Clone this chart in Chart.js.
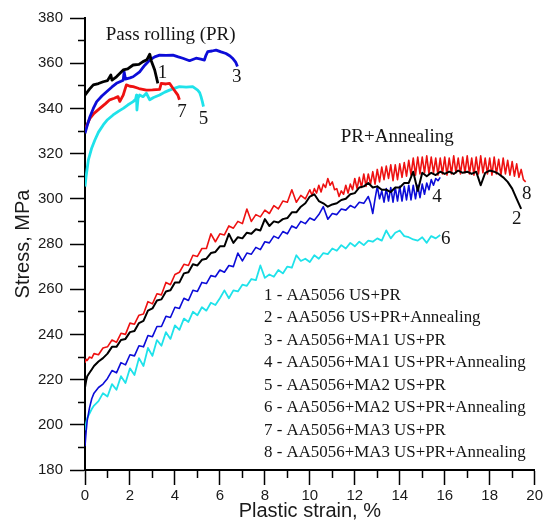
<!DOCTYPE html>
<html><head><meta charset="utf-8">
<script src="https://cdn.jsdelivr.net/npm/chart.js@4"></script>
<style>html,body{margin:0;padding:0;background:#fff;overflow:hidden}canvas{display:block}</style>
</head><body>
<canvas id="c" width="545" height="531"></canvas>
<script>
// ---- tick labels ----
const xTickLabels = [0, 2, 4, 6, 8, 10, 12, 14, 16, 18, 20];
const yTickLabels = [180, 200, 220, 240, 260, 280, 300, 320, 340, 360, 380];

// ---- series names ----
const legendLabels = [
  '1 - AA5056 US+PR',
  '2 - AA5056 US+PR+Annealing',
  '3 - AA5056+MA1 US+PR',
  '4 - AA5056+MA1 US+PR+Annealing',
  '5 - AA5056+MA2 US+PR',
  '6 - AA5056+MA2 US+PR+Annealing',
  '7 - AA5056+MA3 US+PR',
  '8 - AA5056+MA3 US+PR+Annealing'
];
const groupTitles = ['Pass rolling (PR)', 'PR+Annealing'];

// ---- Pass rolling curves (strain %, stress MPa) ----
const strain1 = [0, 0.2, 0.37, 0.6, 0.81, 1.0, 1.15, 1.2, 1.4, 1.7, 1.9, 2.14, 2.4, 2.58, 2.75, 2.88, 2.95, 3.1, 3.24];
const stress1 = [345.9, 348.5, 350.4, 351, 351.8, 352.3, 354.8, 352.5, 354, 357, 357.5, 359.2, 359.5, 360.7, 361.5, 364, 361, 357, 351.1];

const strain3 = [0, 0.1, 0.22, 0.37, 0.52, 0.75, 0.96, 1.2, 1.4, 1.6, 1.7, 1.74, 1.8, 2.0, 2.14, 2.43, 2.65, 2.88, 3.1, 3.32, 3.6, 3.91, 4.15, 4.35, 4.65, 4.94, 5.15, 5.31, 5.38, 5.46, 5.65, 5.83, 6.05, 6.27, 6.45, 6.56, 6.7, 6.78];
const stress3 = [329, 332.5, 336.3, 340, 343, 345.5, 347.4, 349.5, 351.1, 352, 352.5, 356.2, 353, 353.5, 354, 356.2, 359, 361.4, 362.8, 363.6, 363.5, 363.6, 362.8, 362.2, 361.1, 362.2, 361.8, 361.4, 363.5, 365.1, 365.4, 365.8, 365, 364.3, 363.2, 362.2, 360.5, 358.5];

const strain7 = [0, 0.1, 0.22, 0.4, 0.66, 0.9, 1.1, 1.3, 1.47, 1.55, 1.7, 1.84, 2.0, 2.14, 2.4, 2.73, 3.0, 3.32, 3.39, 3.6, 3.76, 3.91, 4.05, 4.13, 4.2];
const stress7 = [330.4, 333, 335.6, 337.8, 340, 342, 343.8, 344.5, 345.2, 343.1, 345.9, 350.4, 349.8, 349.6, 348.8, 348.1, 348.2, 348.4, 351.1, 350.8, 351.1, 348.9, 347, 345.9, 343.8];

const strain5 = [0, 0.05, 0.15, 0.3, 0.44, 0.6, 0.81, 1.0, 1.25, 1.5, 1.7, 1.9, 2.14, 2.25, 2.29, 2.31, 2.36, 2.43, 2.58, 2.73, 2.88, 3.05, 3.32, 3.55, 3.76, 4.0, 4.2, 4.5, 4.79, 5.01, 5.1, 5.16, 5.22, 5.27];
const stress5 = [305.4, 310, 317.2, 322.5, 326, 329.5, 332.7, 335, 337.1, 338.8, 340, 341.5, 343, 344, 345.9, 339.3, 344.5, 345.9, 345.2, 346.7, 343.8, 344.8, 345.9, 347.2, 348.1, 349, 349.6, 349.4, 349.6, 348.1, 347, 345.2, 343, 340.8];

// ---- PR+Annealing curves ----
const strainGrid = [0,0.05,0.1,0.2,0.3,0.4,0.6,0.8,1,1.2,1.4,1.6,1.8,2,2.2,2.4,2.6,2.8,3,3.2,3.4,3.6,3.8,4,4.2,4.4,4.6,4.8,5,5.2,5.4,5.6,5.8,6,6.2,6.4,6.6,6.8,7,7.2,7.4,7.6,7.8,8,8.2,8.4,8.6,8.8,9,9.2,9.4,9.6,9.8,10,10.2,10.4,10.6,10.8,11,11.2,11.4,11.6,11.8,12,12.2,12.4,12.6,12.8,13,13.2,13.4,13.6,13.8,14,14.2,14.4,14.6,14.8,15,15.2,15.4,15.6,15.8,16,16.2,16.4,16.6,16.8,17,17.2,17.4,17.6,17.8,18,18.2,18.4,18.6,18.8,19,19.2,19.4];

const strain8 = [0,0.05,0.1,0.2,0.3,0.4,0.6,0.8,1,1.2,1.4,1.6,1.8,2,2.2,2.4,2.6,2.8,3,3.2,3.4,3.6,3.8,4,4.2,4.4,4.6,4.8,5,5.2,5.4,5.6,5.8,6,6.2,6.4,6.6,6.8,7,7.2,7.4,7.6,7.8,8,8.2,8.4,8.6,8.8,9,9.2,9.4,9.6,9.8,
  10,10.1,10.2,10.3,10.4,10.5,10.6,10.7,10.8,10.9,
  11,11.1,11.2,11.3,11.4,11.5,11.6,11.7,11.8,11.9,
  12,12.1,12.2,12.3,12.4,12.5,12.6,12.7,12.8,12.9,
  13,13.1,13.2,13.3,13.4,13.5,13.6,13.7,13.8,13.9,
  14,14.1,14.2,14.3,14.4,14.5,14.6,14.7,14.8,14.9,
  15,15.1,15.2,15.3,15.4,15.5,15.6,15.7,15.8,15.9,
  16,16.1,16.2,16.3,16.4,16.5,16.6,16.7,16.8,16.9,
  17,17.1,17.2,17.3,17.4,17.5,17.6,17.7,17.8,17.9,
  18,18.1,18.2,18.3,18.4,18.5,18.6,18.7,18.8,18.9,
  19,19.1,19.2,19.3,19.4,19.5,19.6];
const stress8 = [227.5,229,228.5,230,229.5,231.5,231,234,234.5,237.5,
  236.5,240.5,240,245,244.5,248.5,249,254.5,253.5,258,
  257.5,263,262,266.5,267.5,271,270.5,275,274.5,278,
  278,284.5,281,284.5,284,288,287,290,289,295.5,
  290,293,292,295,293.5,297,295.5,299,298.5,304,
  298.5,301.5,300,
  304,301.5,304.5,302.5,306,303,306.5,305,309,306,
  307.5,304,304.5,301,303.5,302,306,302.5,306.5,304,
  309,304.5,309.5,305,311,305.5,311,306.5,312,306.5,
  313,307.5,314,308.5,314.5,309,315,308,315,308.5,
  315.5,309.5,316,310,317,310.5,318,310.5,318.5,311,
  318.5,311.5,319,311,318.5,311.5,318,310.5,318,311,
  318.5,310.5,318,311,319,311.5,318,311,318.5,311.5,
  319,311,318,310.5,318.5,311,319,311.5,318,311,
  318,310.5,318.5,311,317.5,310.5,318,311,317,310.5,
  316.5,310,315.5,309.5,313,308.5,307.5];

const stress2 = [216.5,219.5,221.5,223,224.5,226,228,229.5,231.5,234.5,
  234.5,237.5,238,241,241.5,245,246,250.5,251.5,255,
  255.5,259,259.5,263,263,267,267.5,271,270.5,273,
  273.5,276,276.5,279,279,284.5,280.5,283,282.5,285,
  284.5,286.5,286,291,288,290,289.5,291,291.5,294,
  294,296.5,298,301,302,299,298,296.5,297.5,298,
  299.5,300,302,302.5,305,305.5,307,305,305.5,304,
  304,303,305,305,307,307,312,303.5,311.5,310,
  311.5,310.5,312,311,312,311,312.5,311.5,312,311,
  312,306,311.5,312.5,312,311,309.5,307.5,304.5,300,
  295.5];

const strain4 = [0,0.05,0.1,0.2,0.3,0.4,0.6,0.8,1,1.2,1.4,1.6,1.8,2,2.2,2.4,2.6,2.8,3,3.2,3.4,3.6,3.8,4,4.2,4.4,4.6,4.8,5,5.2,5.4,5.6,5.8,6,6.2,6.4,6.6,6.8,7,7.2,7.4,7.6,7.8,8,8.2,8.4,8.6,8.8,9,9.2,9.4,9.6,9.8,10,10.2,10.4,10.6,10.8,11,11.2,11.4,11.6,11.8,12,12.2,12.4,
  12.6,12.7,12.8,12.9,13,13.1,13.2,13.3,13.4,13.5,13.6,13.7,13.8,13.9,
  14,14.1,14.2,14.3,14.4,14.5,14.6,14.7,14.8,14.9,
  15,15.1,15.2,15.3,15.4,15.5,15.6,15.7,15.8];
const stress4 = [190.5,197,202,207.5,211.5,214,216.5,218,220.5,224,
  223,227.5,226.5,231,230.5,235,234.5,239.5,239,243.5,
  243.5,248,247.5,252,251.5,256,255,259.5,259,263,
  262.5,266,265.5,268.5,267.5,270.5,270,276,272.5,276,
  275.5,278.5,277.5,281,280.5,283.5,282.5,285.5,284.5,288,
  287,290,289,291.5,290.5,293,296.5,291,293.5,293,
  295.5,295,297,296,298.5,298,
  301,298,293.5,300,305.5,300,303.5,298.5,304.5,299,305,298.5,305,299,
  305.5,299,305.5,299.5,306,299.5,306,300,306,300.5,
  306.5,302,307,304,308.5,306,309,308,309.5];

const stress6 = [197.5,201,203,205,207,208.5,210.5,214,212.5,218,
  215.5,221.5,218.5,225,222,229.5,226,234,230.5,237.5,
  235,241,238,244,242,247,245.5,250,248.5,252,
  250.5,254,253,256,259.5,256,259.5,259,262,261.5,
  264.5,264,270.5,265,266.5,265.5,268.5,267,270,269.5,
  275,272.5,273.5,272,275,273.5,276,275.5,278,277,
  279.5,278,280.5,279,281,279.5,281.5,281,282.5,281.5,
  286,282.5,285,286,283.5,283,282,281.5,283,280.5,
  283.5,282.5,284];

function pts(xs, ys) { return ys.map((v, i) => ({ x: xs[i], y: v })); }

const RED = '#ee1111', BLACK = '#000000', BLUE = '#0c0cd8', CYAN = '#1fe2ea';
const SANS = '"Liberation Sans", Arial, sans-serif';
const SERIF = '"Liberation Serif", "Times New Roman", serif';

function ds(label, data, color, width) {
  return { label, data, borderColor: color, backgroundColor: color, borderWidth: width,
    pointRadius: 0, tension: 0, fill: false, borderJoinStyle: 'round' };
}

const annot = {
  id: 'annot',
  afterDatasetsDraw(chart) {
    const { ctx, scales: { x, y } } = chart;
    const X = v => x.getPixelForValue(v), Y = v => y.getPixelForValue(v);
    ctx.save();
    ctx.fillStyle = '#151515';
    ctx.textAlign = 'center';
    ctx.textBaseline = 'middle';
    ctx.font = '19px ' + SERIF;
    ctx.fillText(groupTitles[0], X(3.81), Y(372.5));
    ctx.fillText(groupTitles[1], X(13.89), Y(327.5));
    // curve numbers
    ctx.fillText('1', X(3.45), Y(355.7));
    ctx.fillText('3', X(6.75), Y(353.8));
    ctx.fillText('7', X(4.31), Y(338.5));
    ctx.fillText('5', X(5.27), Y(335.3));
    ctx.fillText('4', X(15.66), Y(300.6));
    ctx.fillText('8', X(19.65), Y(301.9));
    ctx.fillText('2', X(19.2), Y(291.2));
    ctx.fillText('6', X(16.04), Y(282.4));
    // legend text
    ctx.textAlign = 'left';
    ctx.font = '16.9px ' + SERIF;
    const lx = X(7.96), ly = Y(257.2);
    legendLabels.forEach((t, i) => ctx.fillText(t, lx, ly + i * 22.5));
    ctx.restore();
  }
};

new Chart(document.getElementById('c'), {
  type: 'line',
  data: {
    datasets: [
      ds(legendLabels[0], pts(strain1, stress1), BLACK, 2.8),
      ds(legendLabels[2], pts(strain3, stress3), BLUE, 2.8),
      ds(legendLabels[6], pts(strain7, stress7), RED, 2.8),
      ds(legendLabels[4], pts(strain5, stress5), CYAN, 2.8),
      ds(legendLabels[1], pts(strainGrid, stress2), BLACK, 2.0),
      ds(legendLabels[3], pts(strain4, stress4), BLUE, 1.6),
      ds(legendLabels[7], pts(strain8, stress8), RED, 1.6),
      ds(legendLabels[5], pts(strainGrid, stress6), CYAN, 1.8)
    ]
  },
  options: {
    responsive: false,
    animation: false,
    devicePixelRatio: 1,
    layout: { padding: { top: 18, right: 0, left: 0, bottom: 0 } },
    plugins: { legend: { display: false }, tooltip: { enabled: false } },
    scales: {
      x: {
        type: 'linear', min: 0, max: 20,
        afterFit: s => { s.height = 61; },
        border: { display: true, color: '#000', width: 2 },
        grid: {
          drawOnChartArea: false, drawTicks: true, tickLength: 15, tickWidth: 1.5, tickColor: '#000',
          tickBorderDash: c => (c.tick && c.tick.value % 2 !== 0) ? [7, 100] : []
        },
        ticks: {
          stepSize: 1, autoSkip: false, maxRotation: 0, padding: 2, color: '#1a1a1a',
          font: { family: SANS, size: 15 },
          callback: v => xTickLabels.includes(v) ? String(v) : ''
        },
        title: { display: true, text: 'Plastic strain, %', color: '#1a1a1a',
          font: { family: SANS, size: 20 }, padding: { top: 0, bottom: 8 } }
      },
      y: {
        type: 'linear', min: 180, max: 380,
        afterFit: s => { s.width = 85; },
        border: { display: true, color: '#000', width: 2 },
        grid: {
          drawOnChartArea: false, drawTicks: true, tickLength: 15, tickWidth: 1.5, tickColor: '#000',
          tickBorderDash: c => (c.tick && c.tick.value % 20 !== 0) ? [0, 8, 7, 100] : []
        },
        ticks: {
          stepSize: 10, autoSkip: false, padding: 7, color: '#1a1a1a',
          font: { family: SANS, size: 15 },
          callback: v => yTickLabels.includes(v) ? String(v) : ''
        },
        title: { display: true, text: 'Stress, MPa', color: '#1a1a1a',
          font: { family: SANS, size: 20 }, padding: { top: 11, bottom: 0 } }
      }
    }
  },
  plugins: [annot]
});
</script>
</body></html>
